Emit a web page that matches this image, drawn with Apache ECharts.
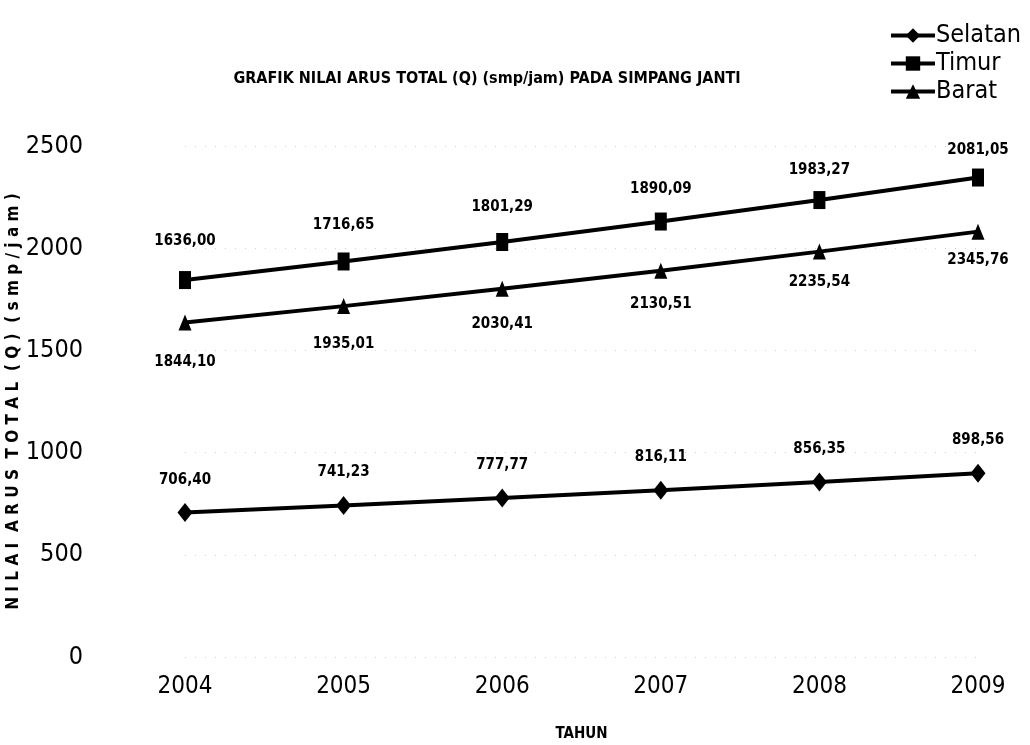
<!DOCTYPE html>
<html>
<head>
<meta charset="utf-8">
<title>Grafik Nilai Arus Total Simpang Janti</title>
<script src="https://cdn.jsdelivr.net/npm/echarts@6/dist/echarts.min.js"></script>
<style>
  html, body { margin: 0; padding: 0; background: #fff; }
  #chart { width: 1030px; height: 745px; }
</style>
</head>
<body>
<div id="chart"></div>
<script>
// Tahun pengamatan
const tahun = ['2004', '2005', '2006', '2007', '2008', '2009'];

// Arus total Q (smp/jam) per pendekat
const selatan = [706.40, 741.23, 777.77, 816.11, 856.35, 898.56];
const timur   = [1844.10, 1935.01, 2030.41, 2130.51, 2235.54, 2345.76];
const barat   = [1636.00, 1716.65, 1801.29, 1890.09, 1983.27, 2081.05];

// Sumbu Y
const yTicks = [0, 500, 1000, 1500, 2000, 2500];

const NARROW = "'Liberation Sans Narrow', 'DejaVu Sans Condensed', 'Arial Narrow', sans-serif";

const fmt = v => v.toFixed(2).replace('.', ',');

const labelBase = {
  show: true,
  color: '#000',
  fontFamily: NARROW,
  fontWeight: 'bold',
  fontSize: 15,
  formatter: p => fmt(p.value)
};

const chart = echarts.init(document.getElementById('chart'), null, { renderer: 'canvas' });

chart.setOption({
  backgroundColor: '#fff',
  animation: false,
  title: {
    text: 'GRAFIK NILAI ARUS TOTAL (Q) (smp/jam) PADA SIMPANG JANTI',
    left: 482,
    top: 66,
    textAlign: 'center',
    textStyle: { fontFamily: NARROW, fontWeight: 'bold', fontSize: 16, color: '#000' }
  },
  legend: {
    orient: 'vertical',
    right: 4,
    top: 18,
    itemWidth: 44,
    itemHeight: 18,
    itemGap: 3,
    lineStyle: { width: 4 },
    textStyle: { fontFamily: NARROW, fontSize: 25, color: '#000', padding: [0, 0, 0, -4] },
    data: ['Selatan', 'Timur', 'Barat']
  },
  grid: { left: 185, right: 52, top: 146, bottom: 88, outerBoundsMode: 'none' },
  xAxis: {
    type: 'category',
    data: tahun,
    boundaryGap: false,
    name: 'TAHUN',
    nameLocation: 'middle',
    nameGap: 70,
    nameMoveOverlap: false,
    nameTextStyle: { fontFamily: NARROW, fontWeight: 'bold', fontSize: 15, color: '#000' },
    axisLine: { show: false },
    axisTick: { show: false },
    axisLabel: { fontFamily: NARROW, fontSize: 24, color: '#000', margin: 18 },
    splitLine: { show: false }
  },
  yAxis: {
    type: 'value',
    min: yTicks[0],
    max: yTicks[yTicks.length - 1],
    interval: 500,
    name: 'N I L A I  A R U S  T O T A L  ( Q )  ( s m p / j a m )',
    nameLocation: 'middle',
    nameGap: 163,
    nameMoveOverlap: false,
    nameRotate: 90,
    nameTextStyle: { fontFamily: NARROW, fontWeight: 'bold', fontSize: 17, color: '#000' },
    axisLine: { show: false },
    axisTick: { show: false },
    axisLabel: {
      fontFamily: NARROW, fontSize: 25, color: '#000', margin: 102,
      formatter: v => String(v)
    },
    splitLine: { show: true, lineStyle: { color: '#cfcfcf', type: [1, 9], width: 1 } }
  },
  series: [
    {
      name: 'Selatan',
      type: 'line',
      data: selatan,
      symbol: 'diamond',
      symbolSize: [15, 19],
      lineStyle: { color: '#000', width: 4 },
      itemStyle: { color: '#000' },
      label: Object.assign({}, labelBase, { position: 'top', distance: 16 })
    },
    {
      name: 'Timur',
      type: 'line',
      data: timur,
      symbol: 'rect',
      symbolSize: [12, 18],
      lineStyle: { color: '#000', width: 4 },
      itemStyle: { color: '#000' },
      // nilai Timur dicetak di bawah garis Barat
      label: Object.assign({}, labelBase, { position: 'bottom', distance: 4, offset: [0, 62] })
    },
    {
      name: 'Barat',
      type: 'line',
      data: barat,
      symbol: 'triangle',
      symbolSize: [13, 16],
      lineStyle: { color: '#000', width: 4 },
      itemStyle: { color: '#000' },
      // nilai Barat dicetak di atas garis Timur
      label: Object.assign({}, labelBase, { position: 'top', distance: 4, offset: [0, -62] })
    }
  ]
});
</script>
</body>
</html>
